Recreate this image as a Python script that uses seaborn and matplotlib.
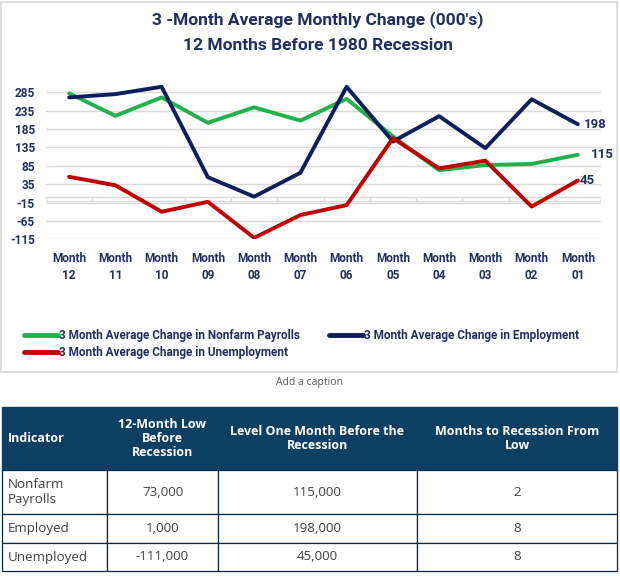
import pandas as pd
import matplotlib.pyplot as plt
import seaborn as sns
from matplotlib.patches import Rectangle

# ============================================
# DATA
# ============================================
months = ["12", "11", "10", "09", "08", "07", "06", "05", "04", "03", "02", "01"]
payrolls = [282, 221, 271, 202, 244, 208, 267, 165, 73, 87, 90, 115]
employment = [271, 280, 300, 54, 1, 66, 300, 151, 220, 133, 266, 198]
unemployment = [55, 32, -40, -13, -111, -49, -22, 160, 78, 99, -26, 45]

series_names = [
    "3 Month Average Change in Nonfarm Payrolls",
    "3 Month Average Change in Employment",
    "3 Month Average Change in Unemployment",
]
series_colors = ["#21b14b", "#0c1f5c", "#c00000"]
y_ticks = [-115, -65, -15, 35, 85, 135, 185, 235, 285]

table_header = ["Indicator", "12-Month Low\nBefore\nRecession",
                "Level One Month Before the\nRecession", "Months to Recession From\nLow"]
table_rows = [
    ["Nonfarm\nPayrolls", "73,000", "115,000", "2"],
    ["Employed", "1,000", "198,000", "8"],
    ["Unemployed", "-111,000", "45,000", "8"],
]

# ============================================
# STYLE
# ============================================
sns.set_theme(style="white")
chart_font = ["Roboto", "DejaVu Sans"]
table_font = ["Open Sans", "DejaVu Sans"]
plt.rcParams["font.family"] = chart_font
navy_text = "#1f2f5f"
grid_col = "#d9d9d9"

W, H = 620, 576
fig = plt.figure(figsize=(W / 100, H / 100), dpi=100)

# ============================================
# LINE CHART
# ============================================
df = pd.DataFrame({
    "x": list(range(len(months))) * 3,
    "value": payrolls + employment + unemployment,
    "series": [s for s in series_names for _ in months],
})

ax_left, ax_right = 46 / W, 601 / W
ax_bottom_px, ax_top_px = 239.3, 83.1
ax = fig.add_axes([ax_left, 1 - ax_bottom_px / H, ax_right - ax_left, (ax_bottom_px - ax_top_px) / H])

for yt in y_ticks:
    ax.axhline(yt, color=grid_col, lw=1, zorder=0)

# category axis at zero
ax.axhline(0, color=grid_col, lw=1, zorder=0)
ax.axhline(-11, color=grid_col, lw=1, zorder=0)
ax.vlines([i + 0.5 for i in range(-1, len(months))], -11, 0, color=grid_col, lw=1, zorder=0)

sns.lineplot(data=df, x="x", y="value", hue="series", hue_order=series_names,
             palette=series_colors, lw=2.8, ax=ax, legend=False, sort=False, zorder=3)

ax.set_xlim(-0.5, len(months) - 0.5)
ax.set_ylim(-115, 310)
ax.set_yticks(y_ticks)
ax.set_yticklabels([str(v) for v in y_ticks], fontsize=8.5, fontweight="bold", color=navy_text)
ax.set_xticks(range(len(months)))
ax.set_xticklabels([f"Month\n{m}" for m in months], fontsize=8.5, fontweight="bold",
                   color=navy_text, linespacing=1.45)
ax.tick_params(axis="y", length=0, pad=8)
ax.tick_params(axis="x", length=0, pad=9)
ax.set_xlabel("")
ax.set_ylabel("")
for sp in ax.spines.values():
    sp.set_visible(False)
ax.patch.set_alpha(0)

# end labels
last = len(months) - 1
for vals, color, dx in [(employment, series_colors[1], 6), (payrolls, series_colors[0], 13),
                        (unemployment, series_colors[2], 2)]:
    ax.annotate(str(vals[-1]), (last, vals[-1]), xytext=(dx, 0), textcoords="offset pixels",
                ha="left", va="center", fontsize=9.5, fontweight="bold", color=navy_text)

# legend
handles = [plt.Line2D([], [], color=c, lw=3.5) for c in series_colors]
order = [0, 2, 1]
fig.legend([handles[i] for i in order], [series_names[i] for i in order],
           loc="upper left", bbox_to_anchor=(24 / W, 1 - 329 / H), ncol=2, frameon=False,
           prop={"size": 8.5, "weight": "bold"}, handlelength=2.9, handletextpad=0.1,
           columnspacing=2.4, labelspacing=0.35, borderpad=0, borderaxespad=0,
           labelcolor=navy_text)

fig.text(318 / W, 1 - 20 / H, "3 -Month Average Monthly Change (000's)", ha="center", va="center",
         fontsize=12.5, fontweight="bold", color=navy_text)
fig.text(318 / W, 1 - 46 / H, "12 Months Before 1980 Recession", ha="center", va="center",
         fontsize=12.5, fontweight="bold", color=navy_text)

# ============================================
# FRAME, CAPTION, TABLE
# ============================================
ov = fig.add_axes([0, 0, 1, 1], zorder=-1)
ov.set_xlim(0, W)
ov.set_ylim(H, 0)
ov.axis("off")
ov.add_patch(Rectangle((1, 2), 616, 370, fill=False, edgecolor=grid_col, lw=1.2))
ov.text(310, 382, "Add a caption", ha="center", va="center", fontsize=7.5,
        color="#595959", family=table_font)

col_edges = [2, 107, 218, 417, 617]
row_edges = [407, 470, 514, 543, 571]
header_col = "#0d3f63"
border_col = "#0b2a4a"

ov.add_patch(Rectangle((col_edges[0], row_edges[0]), col_edges[-1] - col_edges[0],
                       row_edges[1] - row_edges[0], facecolor=header_col, edgecolor=header_col))
for j, txt in enumerate(table_header):
    if j == 0:
        ov.text(col_edges[0] + 6, (row_edges[0] + row_edges[1]) / 2, txt, ha="left", va="center",
                fontsize=9, fontweight="bold", color="white", family=table_font, linespacing=1.05)
    else:
        ov.text((col_edges[j] + col_edges[j + 1]) / 2, (row_edges[0] + row_edges[1]) / 2, txt,
                ha="center", va="center", fontsize=9, fontweight="bold", color="white",
                family=table_font, linespacing=1.05)

for i, row in enumerate(table_rows):
    y0, y1 = row_edges[i + 1], row_edges[i + 2]
    for j, txt in enumerate(row):
        x0, x1 = col_edges[j], col_edges[j + 1]
        ov.add_patch(Rectangle((x0, y0), x1 - x0, y1 - y0, facecolor="white",
                               edgecolor=border_col, lw=0.9))
        if j == 0:
            ov.text(x0 + 6, (y0 + y1) / 2, txt, ha="left", va="center", fontsize=9.6,
                    color="#404040", family=table_font, linespacing=1.3)
        else:
            ov.text((x0 + x1) / 2, (y0 + y1) / 2, txt, ha="center", va="center", fontsize=9.6,
                    color="#404040", family=table_font)

fig.savefig("out.png", dpi=100)
